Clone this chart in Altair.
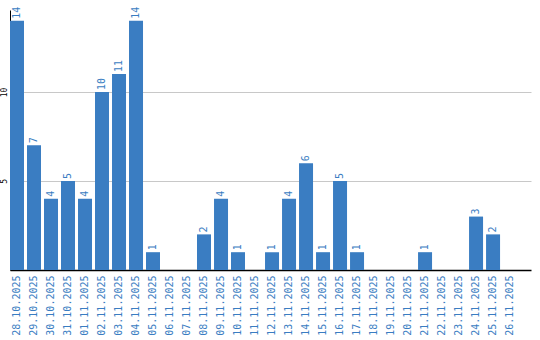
import altair as alt
import pandas as pd

dates = ["28.10.2025", "29.10.2025", "30.10.2025", "31.10.2025", "01.11.2025",
         "02.11.2025", "03.11.2025", "04.11.2025", "05.11.2025", "06.11.2025",
         "07.11.2025", "08.11.2025", "09.11.2025", "10.11.2025", "11.11.2025",
         "12.11.2025", "13.11.2025", "14.11.2025", "15.11.2025", "16.11.2025",
         "17.11.2025", "18.11.2025", "19.11.2025", "20.11.2025", "21.11.2025",
         "22.11.2025", "23.11.2025", "24.11.2025", "25.11.2025", "26.11.2025"]
counts = [14, 7, 4, 5, 4, 10, 11, 14, 1, 0,
          0, 2, 4, 1, 0, 1, 4, 6, 1, 5,
          1, 0, 0, 0, 1, 0, 0, 3, 2, 0]
y_ticks = [5, 10]

df = pd.DataFrame({"date": dates, "count": counts})

BLUE = "#3a7dc2"
FONT = "DejaVu Sans Mono"

xscale = alt.Scale(paddingInner=3 / 17, paddingOuter=0.41, align=0)
yscale = alt.Scale(domain=[0, 14.6], nice=False)

base = alt.Chart(df)

bars = base.mark_bar(color=BLUE).encode(
    x=alt.X("date:N", sort=dates, scale=xscale,
            axis=alt.Axis(title=None, labelAngle=-90, labelAlign="right",
                          labelBaseline="middle", labelPadding=5, ticks=False,
                          labelColor=BLUE, labelFont=FONT, labelFontSize=10,
                          domainColor="#000000", domainWidth=1.5, grid=False)),
    y=alt.Y("count:Q", scale=yscale,
            axis=alt.Axis(title=None, values=y_ticks, labelAngle=-90,
                          labelAlign="center", labelBaseline="bottom",
                          labelPadding=2, ticks=False, labelColor="#000000",
                          labelFont=FONT, labelFontSize=8, domainColor="#000000",
                          grid=True, gridColor="#c8c8c8")),
)

labels = base.transform_filter("datum.count > 0").mark_text(
    angle=270, align="left", baseline="middle", dx=2, color=BLUE,
    font=FONT, fontSize=10,
).encode(
    x=alt.X("date:N", sort=dates, scale=xscale),
    y=alt.Y("count:Q", scale=yscale),
    text="count:Q",
)

chart = (bars + labels).properties(
    width=521, height=260,
    autosize=alt.AutoSizeParams(type="none"),
    padding={"left": 10, "top": 10, "right": 9, "bottom": 70},
).configure_view(stroke=None)

chart.save("out.html", embed_options={"renderer": "svg", "actions": False})
